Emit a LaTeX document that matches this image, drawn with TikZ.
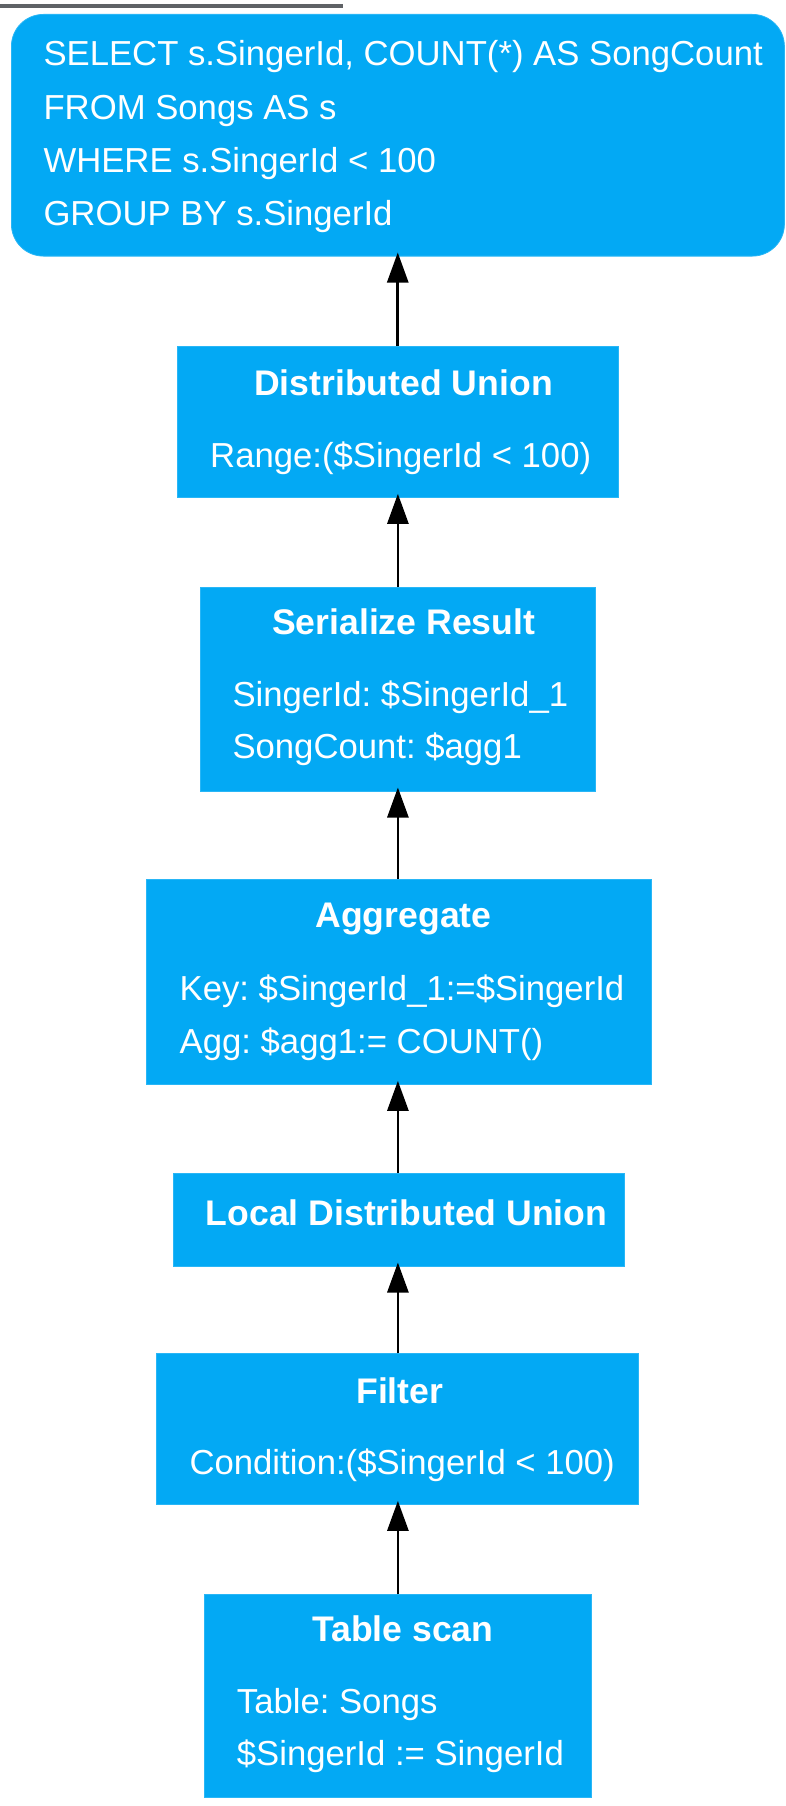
\documentclass[tikz,border=0pt]{standalone}
\usepackage{fontspec}
\setmainfont{Liberation Sans}
\usetikzlibrary{arrows.meta}
\definecolor{planblue}{HTML}{03A9F4}
\definecolor{planedge}{HTML}{29B6F6}
\definecolor{rulegray}{HTML}{5F6266}
\tikzset{
  opbox/.style={rectangle, fill=planblue, draw=planedge, line width=0.8pt,
    inner sep=0pt, anchor=north west},
  optitle/.style={anchor=base, inner sep=0pt, text=white,
    font=\fontsize{35.6}{40}\selectfont\bfseries},
  opline/.style={anchor=base west, inner sep=0pt, text=white,
    font=\fontsize{34.7}{40}\selectfont},
  flow/.style={line width=2.7pt, draw=black,
    -{Triangle[length=30pt,width=21pt]}, shorten >=-4pt}
}
\begin{document}
\frenchspacing
\begin{tikzpicture}[x=1pt,y=-1pt]
\useasboundingbox (0,0) rectangle (785,1806);

% rule above the query
\draw[rulegray, line width=4pt] (0,5.7) coordinate (ruleA) -- (343,5.7) coordinate (ruleB);

% query box
\node[opbox, rounded corners=32pt, minimum width=773pt, minimum height=241.7pt] (sql) at (11,14) {};
\node[opline] (q1) at (43.3,65.7) {SELECT s.SingerId, COUNT(*) AS SongCount};
\node[opline] (q2) at (43.3,119.3) {FROM Songs AS s};
\node[opline] (q3) at (43.3,172.7) {WHERE s.SingerId < 100};
\node[opline] (q4) at (43.3,225.7) {GROUP BY s.SingerId};

% Distributed Union
\node[opbox, minimum width=440.7pt, minimum height=151pt] (du) at (177,346) {};
\node[optitle] (duT) at (403.5,395.7) {Distributed Union};
\node[opline] (du1) at (210,467.3) {Range:(\$SingerId < 100)};

% Serialize Result
\node[opbox, minimum width=395pt, minimum height=203.7pt] (sr) at (200,587) {};
\node[optitle] (srT) at (403.7,634.3) {Serialize Result};
\node[opline] (sr1) at (232.3,706) {SingerId: \$SingerId\_1};
\node[opline] (sr2) at (232.3,758.3) {SongCount: \$agg1};

% Aggregate
\node[opbox, minimum width=504.7pt, minimum height=205pt] (agg) at (146.3,879) {};
\node[optitle] (aggT) at (403.5,927.5) {Aggregate};
\node[opline] (agg1) at (179.5,1000.2) {Key: \$SingerId\_1:=\$SingerId};
\node[opline] (agg2) at (179.5,1053.8) {Agg: \$agg1:= COUNT()};

% Local Distributed Union
\node[opbox, minimum width=450.7pt, minimum height=93.1pt] (ldu) at (173.3,1172.6) {};
\node[optitle] (lduT) at (406.6,1225.9) {Local Distributed Union};

% Filter
\node[opbox, minimum width=482pt, minimum height=150.7pt] (flt) at (156.3,1353.3) {};
\node[optitle] (fltT) at (399.8,1403.3) {Filter};
\node[opline] (flt1) at (189.3,1474.3) {Condition:(\$SingerId < 100)};

% Table scan
\node[opbox, minimum width=386.4pt, minimum height=203pt] (ts) at (204.3,1594.3) {};
\node[optitle] (tsT) at (402.8,1641.7) {Table scan};
\node[opline] (ts1) at (236.7,1713.3) {Table: Songs};
\node[opline] (ts2) at (236.7,1765.3) {\$SingerId := SingerId};

% data flows upward
\draw[flow] (du.north) -- (du.north |- sql.south);
\draw[flow] (sr.north) -- (sr.north |- du.south);
\draw[flow] (sr.north |- agg.north) -- (sr.north |- sr.south);
\draw[flow] (sr.north |- ldu.north) -- (sr.north |- agg.south);
\draw[flow] (sr.north |- flt.north) -- (sr.north |- ldu.south);
\draw[flow] (sr.north |- ts.north) -- (sr.north |- flt.south);
\end{tikzpicture}
\end{document}
